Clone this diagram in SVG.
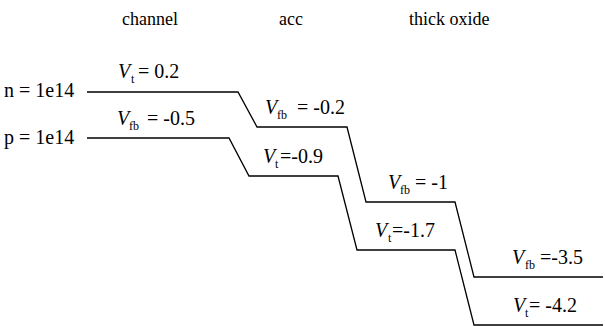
<svg xmlns="http://www.w3.org/2000/svg" width="605" height="326" viewBox="0 0 605 326" font-family="Liberation Serif, Times New Roman, serif">
<style>
text{fill:#000;font-size:20px}
.hdr{font-size:18px}
.v{font-style:italic}
.sub{font-size:12px}
.ln{fill:none;stroke:#000;stroke-width:1.3}
</style>
<rect width="605" height="326" fill="#fff"/>
<g id="headers">
<text class="hdr" x="122" y="25">channel</text>
<text class="hdr" x="279" y="25">acc</text>
<text class="hdr" x="409" y="25">thick oxide</text>
</g>
<g id="row-labels">
<text x="4" y="97">n = 1e14</text>
<text x="4" y="144">p = 1e14</text>
</g>
<g id="connectors">
<path class="ln" d="M87,92 H238 L257,127 H347 L366,202 H455 L474,277 H603"/>
<path class="ln" d="M87,138 H229 L249,176 H338 L357,250 H455 L474,325 H603"/>
</g>
<g id="level-labels">
<g id="n-channel"><text y="78"><tspan class="v" x="118">V</tspan><tspan class="sub" x="131" dy="5">t</tspan><tspan x="138" dy="-5">= 0.2</tspan></text></g>
<g id="p-channel"><text y="125"><tspan class="v" x="117">V</tspan><tspan class="sub" x="129" dy="5">fb</tspan><tspan x="147" dy="-5">= -0.5</tspan></text></g>
<g id="n-acc"><text y="114"><tspan class="v" x="265">V</tspan><tspan class="sub" x="277" dy="5">fb</tspan><tspan x="297" dy="-5">= -0.2</tspan></text></g>
<g id="p-acc"><text y="163"><tspan class="v" x="263">V</tspan><tspan class="sub" x="275" dy="5">t</tspan><tspan x="280" dy="-5">=-0.9</tspan></text></g>
<g id="n-oxide"><text y="189"><tspan class="v" x="388">V</tspan><tspan class="sub" x="400" dy="5">fb</tspan><tspan x="415" dy="-5">= -1</tspan></text></g>
<g id="p-oxide"><text y="237"><tspan class="v" x="375">V</tspan><tspan class="sub" x="388" dy="5">t</tspan><tspan x="392" dy="-5">=-1.7</tspan></text></g>
<g id="n-end"><text y="264"><tspan class="v" x="512">V</tspan><tspan class="sub" x="525" dy="5">fb</tspan><tspan x="540" dy="-5">=-3.5</tspan></text></g>
<g id="p-end"><text y="312"><tspan class="v" x="513">V</tspan><tspan class="sub" x="525" dy="5">t</tspan><tspan x="529" dy="-5">= -4.2</tspan></text></g>
</g>
</svg>
